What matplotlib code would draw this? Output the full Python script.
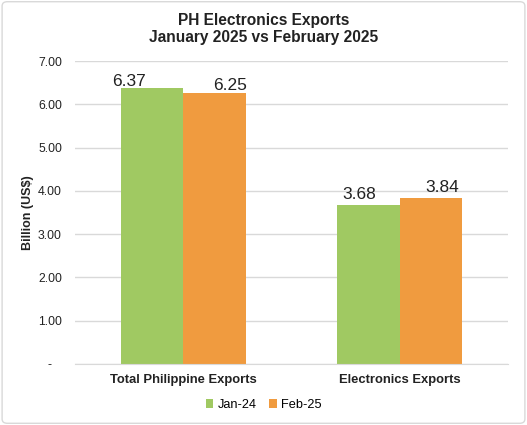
import matplotlib
matplotlib.use("Agg")
import matplotlib.pyplot as plt
from matplotlib.patches import FancyBboxPatch
import numpy as np

plt.rcParams['font.family'] = ['Liberation Sans', 'DejaVu Sans']

categories = ["Total Philippine Exports", "Electronics Exports"]
series_names = ["Jan-24", "Feb-25"]
jan_values = [6.37, 3.68]
feb_values = [6.25, 3.84]
yticks = [0, 1, 2, 3, 4, 5, 6, 7]
ytick_labels = ["-", "1.00", "2.00", "3.00", "4.00", "5.00", "6.00", "7.00"]

green = "#A0C962"
orange = "#F09B3F"
# manual label nudges (points), as in the source chart
jan_label_dx = [-16.5, -6.5]
feb_label_dx = [11.5, 8.0]
jan_label_dy = [1.5, 4.3]
feb_label_dy = [2.2, 4.3]

fig = plt.figure(figsize=(5.27, 4.25), dpi=100)
ax = fig.add_axes([75/527, 1-364/425, 433/527, 303/425])

x = np.arange(len(categories))
w = 0.289
b1 = ax.bar(x - w/2, jan_values, w, color=green, label=series_names[0])
b2 = ax.bar(x + w/2, feb_values, w, color=orange, label=series_names[1])
for bars, dxs, dys in ((b1, jan_label_dx, jan_label_dy), (b2, feb_label_dx, feb_label_dy)):
    for r, dx, dy in zip(bars, dxs, dys):
        ax.annotate(f"{r.get_height():.2f}", (r.get_x() + r.get_width()/2, r.get_height()),
                    xytext=(dx, dy), textcoords="offset points",
                    ha="center", va="baseline", fontsize=12.5, color="#222222")

ax.set_xlim(-0.5, 1.5)
ax.set_ylim(0, 7)
ax.set_yticks(yticks)
ax.set_yticklabels(ytick_labels, fontsize=8.8, color="#222222")
ax.set_xticks(x)
ax.set_xticklabels(categories, fontsize=9.4, fontweight="bold", color="#222222")
ax.tick_params(axis="both", length=0)
ax.tick_params(axis="y", pad=18)
ax.tick_params(axis="x", pad=7)
for lbl in ax.get_yticklabels():
    lbl.set_horizontalalignment("center")
ax.grid(axis="y", color="#D9D9D9", linewidth=1)
ax.set_axisbelow(True)
for s in ["top", "right", "left"]:
    ax.spines[s].set_visible(False)
ax.spines["bottom"].set_color("#D9D9D9")
ax.set_ylabel("Billion (US$)", fontsize=9, fontweight="bold", color="#222222")
ax.yaxis.set_label_coords(-(75-34)/433, 0.5)

fig.text(0.5, 1-29/425, "PH Electronics Exports\nJanuary 2025 vs February 2025", ha="center", va="center",
         fontsize=11.2, fontweight="bold", color="#222222", linespacing=1.15)

fig.legend(handles=[b1, b2], labels=series_names, loc="center", bbox_to_anchor=(0.5, 1-405/425),
           ncol=2, frameon=False, fontsize=9.2, handlelength=0.6, handleheight=0.6, columnspacing=1.0,
           handletextpad=0.3)

border = FancyBboxPatch((0.004, 0.004), 0.992, 0.992, boxstyle="round,pad=0,rounding_size=0.01",
                        transform=fig.transFigure, fill=False, edgecolor="#D9D9D9", linewidth=1)
fig.patches.append(border)

fig.savefig("out.png", dpi=100)
